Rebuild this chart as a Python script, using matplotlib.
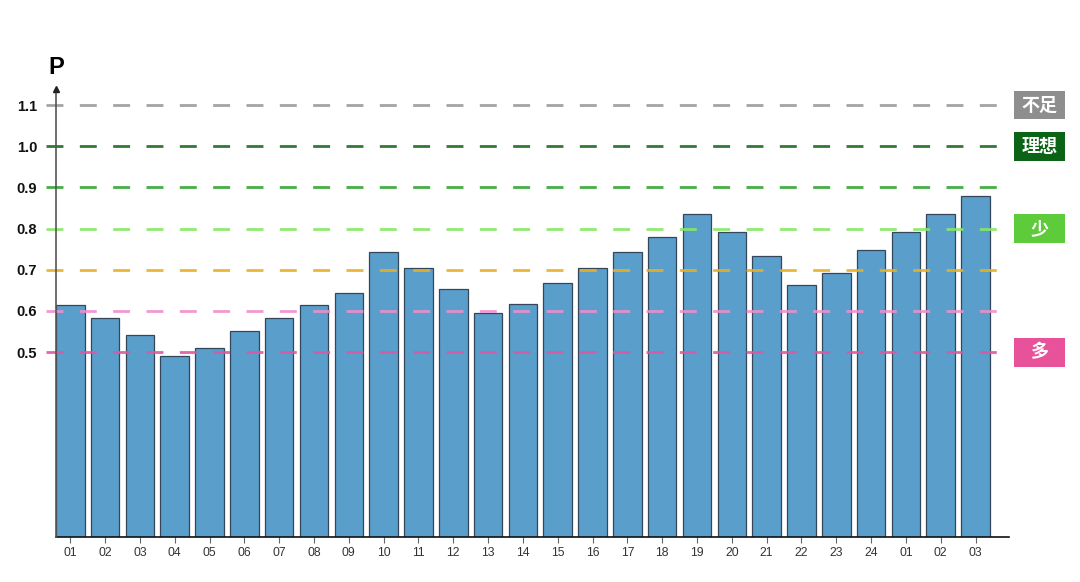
import numpy as np
import matplotlib.pyplot as plt
from matplotlib.patches import Rectangle

plt.rcParams['font.family'] = ['Liberation Sans', 'Noto Sans CJK SC', 'DejaVu Sans']

# month labels (two years, ends with Jan-Mar)
months = ['01', '02', '03', '04', '05', '06', '07', '08', '09', '10', '11', '12',
          '13', '14', '15', '16', '17', '18', '19', '20', '21', '22', '23', '24',
          '01', '02', '03']
p_values = [0.614, 0.583, 0.541, 0.490, 0.510, 0.552, 0.583, 0.614, 0.643,
            0.743, 0.705, 0.654, 0.594, 0.617, 0.667, 0.705, 0.743, 0.780,
            0.835, 0.792, 0.733, 0.663, 0.691, 0.749, 0.792, 0.835, 0.879]

# reference lines
levels = [1.1, 1.0, 0.9, 0.8, 0.7, 0.6, 0.5]
level_colors = ['#9a9a9a', '#1b6b1f', '#31a531', '#86e865', '#e8b022', '#ee8fcb', '#e0569f']

# tags at the right
tag_texts = ['不足', '理想', '少', '多']
tag_levels = [1.1, 1.0, 0.8, 0.5]
tag_colors = ['#8e8e8e', '#0b6416', '#5dcb3a', '#e8529b']

fig = plt.figure(figsize=(10.8, 5.82), dpi=100)
ax = fig.add_axes([56 / 1080, 1 - 537 / 582, 953 / 1080, (537 - 89) / 582])

x = np.arange(len(months))
ax.bar(x, p_values, width=0.82, color='#5a9fcc', edgecolor='#34465a',
       linewidth=0.9, zorder=2)

ax.set_xlim(-0.41, 26.96)
ax.set_ylim(0.051, 1.139)

# dashed level lines, starting a bit left of the y axis
ytr = ax.get_yaxis_transform()
for lv, c in zip(levels, level_colors):
    ax.plot([-0.0105, 1.0], [lv, lv], transform=ytr, color=c, lw=2.0,
            dashes=(6.1, 5.9), alpha=0.9, clip_on=False, zorder=3,
            solid_capstyle='butt', dash_capstyle='butt')

# tag boxes
for t, lv, c in zip(tag_texts, tag_levels, tag_colors):
    ax.add_patch(Rectangle((1.0052, lv - 0.035), 0.0535, 0.07, transform=ytr,
                           facecolor=c, edgecolor='none', clip_on=False, zorder=4))
    ax.text(1.0052 + 0.0535 / 2, lv, t, transform=ytr, ha='center', va='center',
            color='white', fontsize=13, fontweight='bold',
            family=['Noto Sans CJK SC', 'DejaVu Sans'], zorder=5)

ax.set_xticks(x)
ax.set_xticklabels(months, fontsize=8.7, color='#333333')
ax.tick_params(axis='x', length=4, width=0.8, color='#666666', pad=3)
ax.set_yticks(levels)
ax.set_yticklabels([f'{v:.1f}' for v in levels], fontsize=10.5, fontweight='bold',
                   color='#111111')
ax.tick_params(axis='y', length=0, pad=13.5)

for s in ['top', 'right']:
    ax.spines[s].set_visible(False)
ax.spines['left'].set_color('#555555')
ax.spines['left'].set_linewidth(1.2)
ax.spines['bottom'].set_color('#111111')
ax.spines['bottom'].set_linewidth(1.2)
ax.spines['left'].set_zorder(4)

# arrow head on the y axis and axis name
ax.plot([0], [1], marker='^', markersize=4, color='#222222', transform=ax.transAxes,
        clip_on=False, zorder=5)
ax.annotate('P', xy=(0, 1), xycoords='axes fraction', xytext=(0, 22),
            textcoords='offset pixels', ha='center', va='center',
            fontsize=17, fontweight='bold', color='black')

fig.savefig('out.png', dpi=100)
